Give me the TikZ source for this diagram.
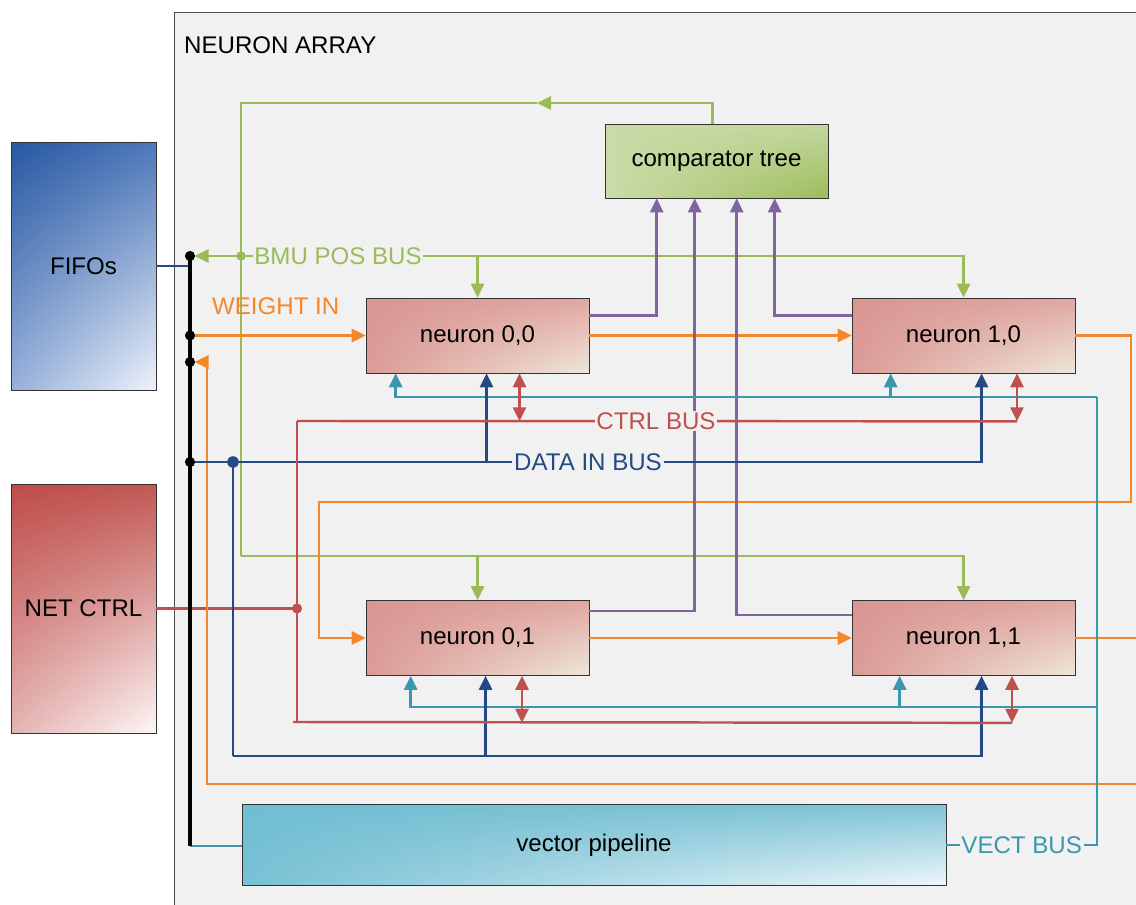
\documentclass[tikz,border=0pt]{standalone}
\usepackage{fontspec}
\setmainfont{Liberation Sans}
\usetikzlibrary{arrows.meta,calc,shadings}

\definecolor{arraybg}{HTML}{F1F1F1}
\definecolor{grn}{HTML}{9BBB59}
\definecolor{org}{HTML}{F5872B}
\definecolor{pur}{HTML}{8064A2}
\definecolor{tl}{HTML}{3A97AE}
\definecolor{dbl}{HTML}{234A84}
\definecolor{rd}{HTML}{C0504D}

\tikzset{
  bus/.style={line width=1.4pt},
  boxbase/.style={draw=black!80,thin,shade,inner sep=0pt},
  neuronbox/.style={boxbase,minimum width=4.46cm,minimum height=1.5cm,
    upper left={rgb,255:red,217;green,149;blue,146},upper right={rgb,255:red,224;green,166;blue,161},
    lower left={rgb,255:red,219;green,155;blue,150},lower right={rgb,255:red,238;green,231;blue,218}},
  fifobox/.style={boxbase,minimum width=2.9cm,minimum height=4.96cm,
    upper left={rgb,255:red,40;green,88;blue,162},upper right={rgb,255:red,78;green,120;blue,186},
    lower left={rgb,255:red,150;green,176;blue,218},lower right={rgb,255:red,238;green,243;blue,250}},
  ctrlbox/.style={boxbase,minimum width=2.9cm,minimum height=4.98cm,
    upper left={rgb,255:red,190;green,76;blue,72},upper right={rgb,255:red,194;green,88;blue,84},
    lower left={rgb,255:red,228;green,180;blue,178},lower right={rgb,255:red,253;green,247;blue,247}},
  cmpbox/.style={boxbase,minimum width=4.46cm,minimum height=1.48cm,
    upper left={rgb,255:red,201;green,219;blue,166},upper right={rgb,255:red,195;green,215;blue,158},
    lower left={rgb,255:red,202;green,220;blue,169},lower right={rgb,255:red,157;green,188;blue,92}},
  vecbox/.style={boxbase,minimum width=14.08cm,minimum height=1.62cm,
    upper left={rgb,255:red,112;green,189;blue,209},upper right={rgb,255:red,128;green,196;blue,214},
    lower left={rgb,255:red,120;green,193;blue,212},lower right={rgb,255:red,238;green,247;blue,250}},
  buslabel/.style={inner sep=1pt,fill=arraybg}
}

\begin{document}
\begin{tikzpicture}[x=0.02cm,y=-0.02cm,>={Triangle[length=8pt,width=7.5pt]},
  every node/.style={font=\fontsize{13.7}{16}\selectfont}]

\useasboundingbox (0,0) rectangle (1136,905);
\clip (0,0) rectangle (1136,905);

\draw[black!70,fill=arraybg] (174,12) rectangle (1160,930);
\node[anchor=west] (title) at (178,45) {NEURON ARRAY};

\node[fifobox] (fifo) at (83.5,266) {FIFOs};
\node[ctrlbox] (netctrl) at (83.5,608.5) {NET CTRL};
\node[cmpbox] (ct) at (716.5,161) {comparator tree};
\node[neuronbox] (n00) at (477.5,335.5) {neuron 0,0};
\node[neuronbox] (n10) at (963.5,335.5) {neuron 1,0};
\node[neuronbox] (n01) at (477.5,638) {neuron 0,1};
\node[neuronbox] (n11) at (963.5,638) {neuron 1,1};
\node[vecbox] (vp) at (594,845) {vector pipeline};

\coordinate (bt) at (190,256);
\coordinate (bw) at (190,335.5);
\coordinate (bo) at (190,362);
\coordinate (bd) at (190,462);
\coordinate (bb) at (190,846);

\coordinate (gtop) at (241,103);
\coordinate (garr) at (537,103);
\coordinate (gdot) at (241,256);
\coordinate (gbot) at (241,556);

\coordinate (oR) at (1131,502);
\coordinate (oL) at (319,502);
\coordinate (oout) at (1145,638);
\coordinate (oin) at (1145,784);
\coordinate (oc) at (207,784);

\coordinate (vA) at (1097,397);
\coordinate (vB) at (1097,707);

\coordinate (dd) at (233,462);
\coordinate (dB) at (233,756);

\coordinate (cd) at (297,608.5);
\coordinate (cT) at (297,421);
\coordinate (cB) at (293,722);

\draw[bus,dbl](fifo.east)--(fifo.east -| bt);
\draw[bus,rd](netctrl.east)--(cd);

\draw[bus,grn,->]($(ct.north)+(-4,0)$)|-(garr);
\draw[bus,grn](garr)--(gtop)--(gbot);
\draw[bus,grn,->,shorten >=2.6pt](gdot)--(bt);
\draw[bus,grn,->](gdot)-|(n00.north);
\draw[bus,grn,->](gdot)-|(n10.north);
\draw[bus,grn,->](gbot)-|(n01.north);
\draw[bus,grn,->](gbot)-|(n11.north);

\draw[bus,org,->](bw)--(n00.west);
\draw[bus,org,->](n00)--(n10);
\draw[bus,org,->](n10.east)-|(oR)--(oL)|-(n01.west);
\draw[bus,org,->](n01)--(n11);
\draw[bus,org](n11.east)--(oout);
\draw[bus,org,->,shorten >=2.6pt](oin)--(oc)|-(bo);
\node[org,anchor=west] (wlbl) at (206,306) {WEIGHT IN};

\draw[bus,pur,->]($(n00.north east)+(0,18)$)-|($(ct.south west)+(52,0)$);
\draw[bus,pur,->]($(n01.north east)+(0,11)$)-|($(ct.south west)+(90,0)$);
\draw[bus,pur,->]($(n11.north west)+(0,15)$)-|($(ct.south west)+(132,0)$);
\draw[bus,pur,->]($(n10.north west)+(0,18)$)-|($(ct.south west)+(170,0)$);

\draw[bus,tl](bb)--(bb -| vp.west);
\draw[bus,tl](vp.east)--node[buslabel,text=tl] (vlbl) {VECT BUS}(vp.east -| vA)--(vA);
\draw[bus,tl,->](vA)-|($(n00.south west)+(30,0)$);
\draw[bus,tl,->](vA)-|($(n10.south west)+(39,0)$);
\draw[bus,tl,->](vB)-|($(n01.south west)+(45,0)$);
\draw[bus,tl,->](vB)-|($(n11.south west)+(48,0)$);

\draw[bus,dbl,->](bd)-|($(n10.south)+(18,0)$);
\draw[bus,dbl,->](dd)-|($(n00.south)+(9,0)$);
\draw[bus,dbl](dd)--(dB);
\draw[bus,dbl,->](dB)-|($(n11.south)+(18,0)$);
\draw[bus,dbl,->](dB)-|($(n01.south)+(8,0)$);

\draw[bus,rd](cT)--(cd |- cB);
\draw[bus,rd](cT)--($(n10.south)+(53.5,48)$);
\draw[bus,rd](cB)--($(n11.south)+(48.5,47)$);
\draw[bus,rd,<->]($(n00.south)+(42,0)$)--++(0,48);
\draw[bus,rd,<->]($(n10.south)+(53.5,0)$)--++(0,48);
\draw[bus,rd,<->]($(n01.south)+(44.5,0)$)--++(0,47);
\draw[bus,rd,<->]($(n11.south)+(48.5,0)$)--++(0,47);

\node[buslabel,text=grn] (glbl) at (338,256) {BMU POS BUS};
\node[buslabel,text=rd] (clbl) at (656,421) {CTRL BUS};
\node[buslabel,text=dbl] (dlbl) at (588,462) {DATA IN BUS};

\draw[line width=2.2pt](bt)--(bb);
\fill(bt)circle[radius=2.9pt];
\fill(bw)circle[radius=2.9pt];
\fill(bo)circle[radius=2.9pt];
\fill(bd)circle[radius=2.9pt];
\fill[grn](gdot)circle[radius=2.7pt];
\fill[dbl](dd)circle[radius=3.3pt];
\fill[rd](cd)circle[radius=2.9pt];

\end{tikzpicture}
\end{document}
